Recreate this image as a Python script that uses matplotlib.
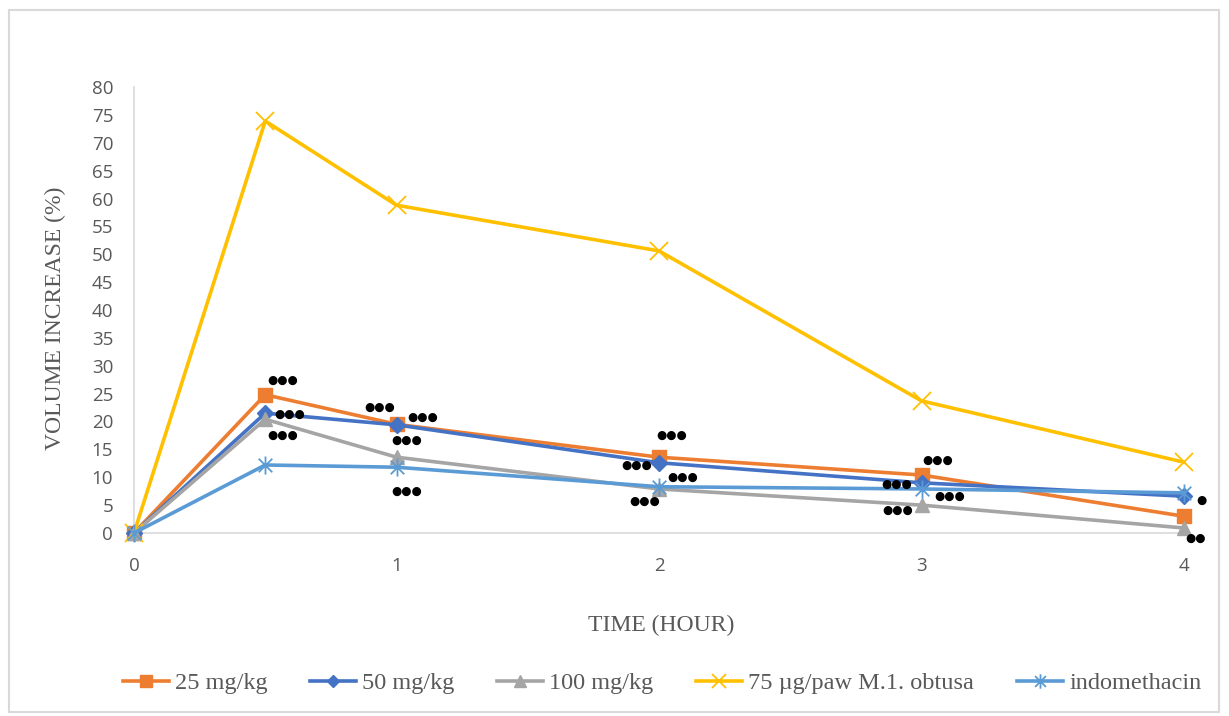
import matplotlib
matplotlib.use("Agg")
import matplotlib.pyplot as plt
from matplotlib.path import Path
from matplotlib.patches import Rectangle

# Paw oedema data: volume increase (%) over time (hours)
time_h = [0, 0.5, 1, 2, 3, 4]
dose_25 = [0, 24.8, 19.5, 13.6, 10.4, 3.0]
dose_50 = [0, 21.5, 19.4, 12.6, 9.0, 6.6]
dose_100 = [0, 20.4, 13.6, 7.9, 5.0, 0.9]
carrageenan = [0, 73.9, 58.8, 50.6, 23.7, 12.7]
indomethacin = [0, 12.2, 11.8, 8.3, 7.9, 7.2]

series_labels = ["25 mg/kg", "50 mg/kg", "100 mg/kg",
                 "75 \u00b5g/paw M.1. obtusa", "indomethacin"]
y_ticks = list(range(0, 85, 5))
x_ticks = [0, 1, 2, 3, 4]

# significance marks: (time, volume, text)
sig_marks = [
    (0.568, 27.4, "***"), (0.594, 21.2, "***"), (0.568, 17.6, "***"),
    (0.937, 22.6, "***"), (1.10, 20.8, "***"), (1.04, 16.7, "***"),
    (1.04, 7.4, "***"),
    (2.05, 17.6, "***"), (1.916, 12.2, "***"), (2.09, 10.0, "***"),
    (1.947, 5.6, "***"),
    (3.06, 13.1, "***"), (2.907, 8.8, "***"), (3.109, 6.5, "***"),
    (2.91, 4.1, "***"),
    (4.065, 5.9, "*"), (4.046, -0.9, "**"),
]

# asterisk-style marker: vertical stroke plus an X
star_path = Path(
    [(0, -1), (0, 1), (-0.75, -0.75), (0.75, 0.75), (-0.75, 0.75), (0.75, -0.75)],
    [Path.MOVETO, Path.LINETO, Path.MOVETO, Path.LINETO, Path.MOVETO, Path.LINETO],
)

fig = plt.figure(figsize=(12.29, 7.16), dpi=100)
ax = fig.add_axes([134 / 1229, 1 - 533 / 716, (1184 - 134) / 1229, (533 - 87) / 716])

# light frame round the chart area
fig.patches.append(Rectangle((9 / 1229, 4 / 716), 1210 / 1229, 702 / 716,
                             transform=fig.transFigure, fill=False,
                             edgecolor="#d9d9d9", linewidth=1.5))

lw = 2.6
styles = [
    (dose_25, dict(color="#ED7D31", marker="s", markersize=10)),
    (dose_50, dict(color="#4472C4", marker="D", markersize=8)),
    (dose_100, dict(color="#A5A5A5", marker="^", markersize=10)),
    (carrageenan, dict(color="#FFC000", marker="x", markersize=13, markeredgewidth=1.3)),
    (indomethacin, dict(color="#5B9BD5", marker=star_path, markersize=13,
                        markeredgewidth=1.3, markerfacecolor="none")),
]
handles = []
for (vals, st), lab in zip(styles, series_labels):
    h, = ax.plot(time_h, vals, linewidth=lw, label=lab, clip_on=False, zorder=3, **st)
    handles.append(h)

for x, y, t in sig_marks:
    ax.text(x, y, "\u25cf" * len(t), fontsize=8.5, color="black",
            family="DejaVu Sans", ha="center", va="center", zorder=5,
            clip_on=False)

ax.set_xlim(0, 4)
ax.set_ylim(0, 80)
ax.set_xticks(x_ticks)
ax.set_yticks(y_ticks)
tick_font = dict(family="Open Sans", size=13.5)
ax.set_xticklabels([str(v) for v in x_ticks], fontdict=tick_font, color="#595959")
ax.set_yticklabels([str(v) for v in y_ticks], fontdict=tick_font, color="#595959")
ax.tick_params(axis="both", length=0)
ax.tick_params(axis="y", pad=15)
ax.tick_params(axis="x", pad=17)

for side in ["top", "right"]:
    ax.spines[side].set_visible(False)
for side in ["left", "bottom"]:
    ax.spines[side].set_color("#d9d9d9")
    ax.spines[side].set_linewidth(1.2)

serif = "Liberation Serif"
fig.text(661 / 1229, 1 - 625 / 716, "TIME (HOUR)", family=serif, size=17,
         color="#595959", ha="center", va="center")
fig.text(55 / 1229, 1 - 318 / 716, "VOLUME INCREASE (%)", family=serif, size=17,
         color="#595959", ha="center", va="center", rotation=90)

leg = fig.legend(handles=handles, loc="center", ncol=5, frameon=False,
                 bbox_to_anchor=(662 / 1229, 1 - 683 / 716),
                 prop=dict(family=serif, size=17.5), labelcolor="#595959",
                 handlelength=1.9, handletextpad=0.25, columnspacing=1.75,
                 markerscale=0.8)

fig.savefig("out.png", dpi=100)
